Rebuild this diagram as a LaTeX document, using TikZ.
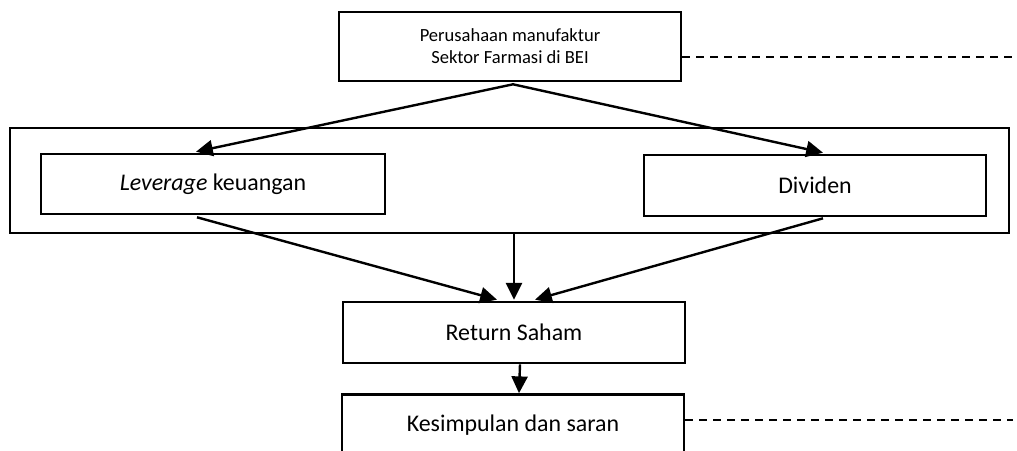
\documentclass[tikz,border=0pt]{standalone}
\usepackage{fontspec}
\setmainfont{Carlito}
\usetikzlibrary{arrows.meta,calc}
\tikzset{
  kotak/.style={draw,line width=0.65mm,inner sep=0pt,minimum width=85.5mm,minimum height=15.25mm,align=center,font=\fontsize{17}{20}\selectfont},
  panah/.style={line width=0.6mm,-{Triangle[length=4.2mm,width=4mm]}},
  putus/.style={line width=0.45mm,dash pattern=on 2mm off 1.5mm}
}
\begin{document}
\begin{tikzpicture}[x=0.25mm,y=-0.25mm]
		\useasboundingbox (0,0) rectangle (1017,450);
		% Objek penelitian
		\node[kotak,minimum height=17.25mm,font=\fontsize{13.2}{15.5}\selectfont] (objek) at (510,46.5) {Perusahaan manufaktur\\Sektor Farmasi di BEI};
		% Variabel bebas
		\node[draw,line width=0.4mm,minimum width=249.75mm,minimum height=26.25mm,inner sep=0pt] (bebas) at (509.5,180.5) {};
		\node[kotak,minimum width=86mm,minimum height=15mm] (lev) at (213,184) {\textit{Leverage} keuangan};
		\node[kotak] (div) at (815,185.5) {Dividen};
		% Variabel terikat
		\node[kotak] (ret) at (514,332.5) {Return Saham};
		\node[kotak] (simpul) at (513,425) {Kesimpulan dan saran};
		% Garis putus-putus
		\coordinate (ujung1) at (1013,57);
		\coordinate (ujung2) at (1013,420);
		\draw[putus] ($(objek.east)+(0,10.5)$) -- (ujung1);
		\draw[putus] ($(simpul.east)+(0,-5)$) -- (ujung2);
		% Panah
		\draw[panah] ($(objek.south)+(3,2)$) -- ($(lev.north)+(-17,-1)$);
		\draw[panah] ($(objek.south)+(3,2)$) -- ($(div.north)+(8,-1)$);
		\draw[panah] ($(lev.south)+(-16,2)$) -- ($(ret.north)+(-17,-1)$);
		\draw[panah] ($(div.south)+(8,1)$) -- ($(ret.north)+(21,-1)$);
		\draw[panah] (ret.north |- bebas.south) -- ($(ret.north)+(0,-1)$);
		\draw[panah] ($(ret.south)+(6,0)$) -- ($(simpul.north)+(6,0)$);
\end{tikzpicture}
\end{document}
